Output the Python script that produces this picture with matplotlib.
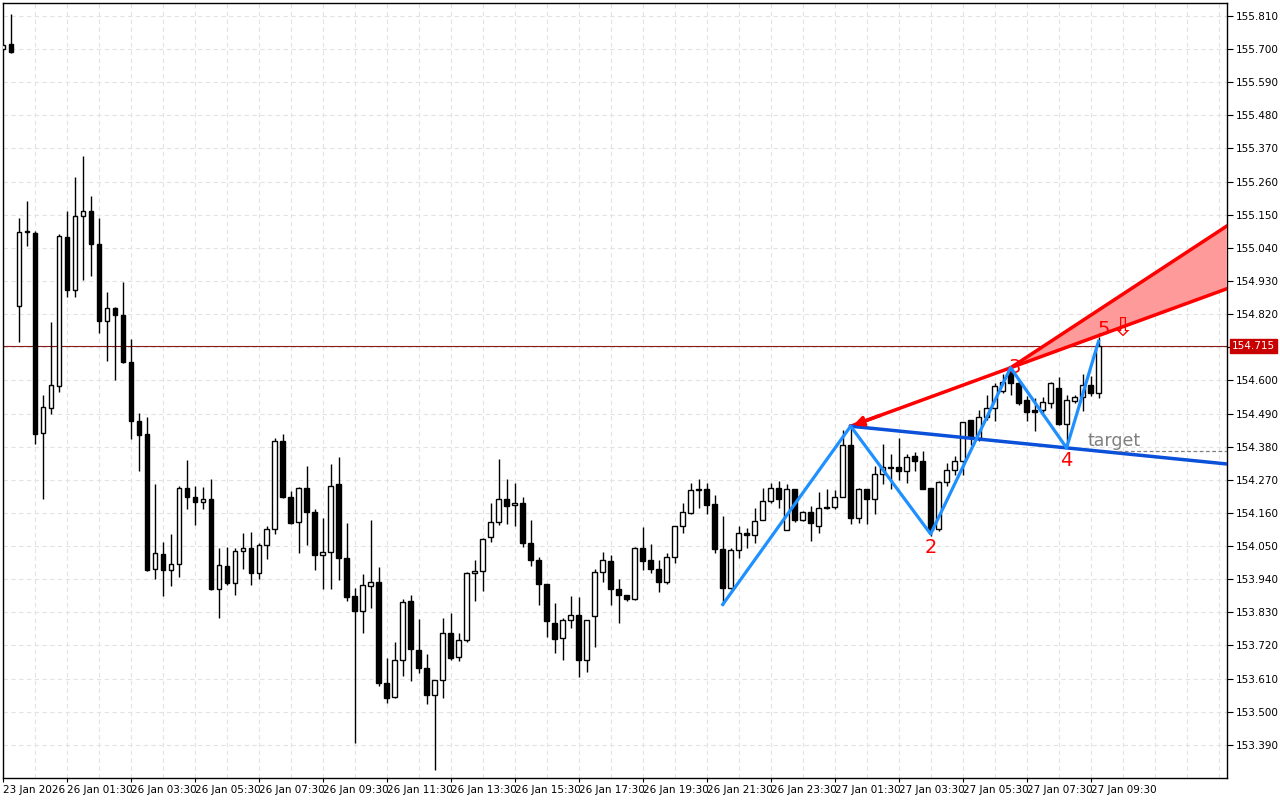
import matplotlib
matplotlib.use("Agg")
import matplotlib.pyplot as plt
import numpy as np

opens = [155.700,155.716,154.848,155.093,155.090,154.424,154.508,154.581,155.077,154.901,
155.147,155.164,155.053,154.797,154.841,154.818,154.662,154.466,154.423,153.975,
154.025,153.969,153.989,154.243,154.212,154.195,154.205,153.906,153.983,153.926,
154.033,154.044,153.961,154.053,154.106,154.399,154.213,154.130,154.244,154.163,
154.022,154.029,154.257,154.011,153.884,153.836,153.917,153.931,153.596,153.548,
153.671,153.867,153.705,153.646,153.557,153.605,153.762,153.681,153.738,153.961,
153.967,154.080,154.130,154.207,154.185,154.194,154.061,154.004,153.923,153.796,
153.744,153.804,153.821,153.671,153.818,153.964,154.000,153.909,153.888,153.873,
154.045,154.004,153.975,153.931,154.015,154.116,154.161,154.240,154.238,154.190,
154.041,153.911,154.037,154.094,154.086,154.138,154.199,154.244,154.103,154.240,
154.136,154.163,154.116,154.180,154.179,154.213,154.385,154.142,154.238,154.205,
154.288,154.312,154.312,154.299,154.349,154.332,154.243,154.108,154.263,154.304,
154.332,154.468,154.409,154.479,154.509,154.564,154.636,154.592,154.534,154.501,
154.501,154.526,154.575,154.454,154.531,154.545,154.584,154.559]
highs = [155.715,155.818,155.140,155.197,155.095,154.553,154.794,155.085,155.164,155.274,
155.344,155.211,155.140,154.894,154.844,154.927,154.736,154.491,154.479,154.256,
154.064,154.090,154.249,154.337,154.249,154.245,154.272,154.044,154.048,154.044,
154.094,154.097,154.061,154.116,154.410,154.421,154.232,154.247,154.315,154.174,
154.144,154.323,154.346,154.127,153.911,153.956,154.138,153.981,153.677,153.732,
153.873,153.889,153.808,153.692,153.605,153.812,153.827,153.762,153.965,154.004,
154.077,154.194,154.340,154.274,154.261,154.214,154.135,154.015,153.923,153.862,
153.812,153.885,153.881,153.806,153.975,154.031,154.019,153.942,153.888,154.047,
154.114,154.058,154.003,154.028,154.117,154.194,154.258,154.273,154.260,154.219,
154.149,154.044,154.116,154.111,154.177,154.244,154.260,154.266,154.255,154.240,
154.168,154.183,154.230,154.240,154.235,154.434,154.448,154.244,154.240,154.315,
154.390,154.356,154.410,154.356,154.363,154.365,154.243,154.265,154.326,154.348,
154.461,154.468,154.503,154.553,154.592,154.620,154.642,154.598,154.548,154.542,
154.544,154.595,154.612,154.551,154.551,154.622,154.614,154.745]
lows = [155.700,155.688,154.726,155.045,154.390,154.206,154.489,154.561,154.877,154.877,
154.933,154.947,154.757,154.664,154.603,154.657,154.404,154.298,153.968,153.941,
153.883,153.919,153.946,154.173,154.120,154.173,153.903,153.812,153.920,153.889,
153.975,153.922,153.941,154.008,154.089,154.208,154.124,154.028,154.055,153.972,
153.908,153.908,153.936,153.867,153.397,153.762,153.845,153.587,153.530,153.546,
153.618,153.601,153.629,153.527,153.306,153.547,153.671,153.668,153.733,153.868,
153.901,154.065,154.120,154.122,154.117,154.047,153.984,153.856,153.749,153.694,
153.671,153.777,153.616,153.632,153.716,153.931,153.856,153.796,153.868,153.870,
153.969,153.959,153.897,153.923,153.993,154.094,154.155,154.175,154.158,154.028,
153.856,153.909,154.011,154.044,154.061,154.138,154.194,154.177,154.103,154.130,
154.133,154.066,154.094,154.173,154.174,154.212,154.122,154.127,154.124,154.155,
154.255,154.240,154.271,154.260,154.299,154.240,154.083,154.099,154.249,154.287,
154.287,154.387,154.398,154.470,154.465,154.559,154.553,154.520,154.465,154.431,
154.492,154.509,154.452,154.376,154.526,154.498,154.548,154.542]
closes = [155.715,155.690,155.094,155.093,154.423,154.511,154.585,155.081,154.901,155.147,
155.164,155.053,154.797,154.841,154.818,154.660,154.464,154.418,153.971,154.028,
153.969,153.989,154.243,154.212,154.195,154.205,153.907,153.987,153.926,154.033,
154.043,153.961,154.053,154.106,154.399,154.213,154.127,154.244,154.162,154.022,
154.030,154.249,154.009,153.882,153.834,153.920,153.930,153.596,153.546,153.671,
153.865,153.707,153.644,153.557,153.605,153.762,153.679,153.738,153.962,153.967,
154.075,154.130,154.207,154.183,154.193,154.059,154.004,153.923,153.801,153.740,
153.804,153.821,153.671,153.804,153.964,154.004,153.906,153.886,153.873,154.045,
154.000,153.973,153.931,154.015,154.117,154.163,154.236,154.235,154.188,154.039,
153.911,154.037,154.094,154.086,154.133,154.199,154.244,154.205,154.240,154.135,
154.163,154.125,154.177,154.175,154.213,154.387,154.142,154.240,154.205,154.288,
154.312,154.308,154.299,154.345,154.332,154.241,154.105,154.263,154.304,154.332,
154.461,154.413,154.479,154.509,154.581,154.595,154.592,154.526,154.496,154.496,
154.528,154.592,154.454,154.534,154.545,154.584,154.559,154.715]

x_labels = ["23 Jan 2026", "26 Jan 01:30", "26 Jan 03:30", "26 Jan 05:30", "26 Jan 07:30",
            "26 Jan 09:30", "26 Jan 11:30", "26 Jan 13:30", "26 Jan 15:30", "26 Jan 17:30",
            "26 Jan 19:30", "26 Jan 21:30", "26 Jan 23:30", "27 Jan 01:30", "27 Jan 03:30",
            "27 Jan 05:30", "27 Jan 07:30", "27 Jan 09:30"]
x_label_pos = [0, 8, 16, 24, 32, 40, 48, 56, 64, 72, 80, 88, 96, 104, 112, 120, 128, 136]
y_ticks = [155.810,155.700,155.590,155.480,155.370,155.260,155.150,155.040,154.930,154.820,
           154.710,154.600,154.490,154.380,154.270,154.160,154.050,153.940,153.830,153.720,
           153.610,153.500,153.390]

wave_idx = [90, 106, 116, 126, 133, 137]
wave_price = [153.856, 154.448, 154.090, 154.642, 154.376, 154.730]
current_price = 154.715
upper_end_price = 155.113
target_price = 154.365

fig = plt.figure(figsize=(12.8, 8.0), dpi=100)
ax = fig.add_axes([3/1280, 22/800, 1224/1280, 775/800])
X0, X1 = 0.06, 153.06
ax.set_xlim(X0, X1)
ax.set_ylim(153.280, 155.853)

o = np.array(opens); h = np.array(highs); l = np.array(lows); c = np.array(closes)
xs = np.arange(len(o))
ax.vlines(xs, l, h, color="black", lw=1, zorder=3)
bull = c >= o
bottom = np.minimum(o, c)
height = np.maximum(np.abs(c - o), 0.0025)
ax.bar(xs[bull], height[bull], bottom=bottom[bull], width=0.6, color="white",
       edgecolor="black", lw=1, zorder=4)
ax.bar(xs[~bull], height[~bull], bottom=bottom[~bull], width=0.6, color="black",
       edgecolor="black", lw=1, zorder=4)

for yv in y_ticks:
    ax.axhline(yv, color="#e3e3e3", lw=0.8, ls=(0, (4, 3)), zorder=0)
for xv in range(4, 153, 4):
    ax.axvline(xv, color="#e3e3e3", lw=0.8, ls=(0, (4, 3)), zorder=0)

ax.axhline(current_price, color="#8b1a1a", lw=0.8, zorder=2)

p1 = (wave_idx[1], wave_price[1]); p3 = (wave_idx[3], wave_price[3])
slope13 = (p3[1] - p1[1]) / (p3[0] - p1[0])
lower_end = p3[1] + slope13 * (X1 - p3[0])
ax.fill([p3[0], X1, X1], [p3[1], upper_end_price, lower_end], color="#ff9a9a", zorder=5)
ax.plot([p3[0], X1], [p3[1], upper_end_price], color="red", lw=2.5, zorder=6)
ax.plot([p1[0], X1], [p1[1], lower_end], color="red", lw=2.5, zorder=6)
ax.annotate("", xy=p1, xytext=(p1[0] + 4, p1[1] + slope13 * 4),
            arrowprops=dict(arrowstyle="-|>", color="red", lw=2.5, mutation_scale=14), zorder=7)

p4 = (wave_idx[4], wave_price[4])
slope14 = (p4[1] - p1[1]) / (p4[0] - p1[0])
ax.plot([p1[0], X1], [p1[1], p1[1] + slope14 * (X1 - p1[0])], color="#0a50d8", lw=2.5, zorder=6)

ax.plot(wave_idx, wave_price, color="#1e90ff", lw=2.3, zorder=7)

ax.text(wave_idx[2], 154.045, "2", color="red", fontsize=14, ha="center", va="center", zorder=8)
ax.text(wave_idx[3] + 0.5, 154.642, "3", color="red", fontsize=14, ha="center", va="center", zorder=6.5)
ax.text(wave_idx[4], 154.335, "4", color="red", fontsize=14, ha="center", va="center", zorder=8)
ax.text(wave_idx[5] + 0.7, 154.770, "5", color="red", fontsize=14, ha="center", va="center", zorder=8)
ax.text(wave_idx[5] + 3.0, 154.772, "⇩", color="red", fontsize=19, ha="center", va="center", zorder=8)

ax.text(138.9, 154.398, "target", color="#808080", fontsize=12.5, ha="center", va="center", zorder=8)
ax.plot([139.4, X1], [target_price, target_price], color="#808080", lw=0.9, ls=(0, (3, 2)), zorder=6)

for s in ax.spines.values():
    s.set_color("black"); s.set_linewidth(1)
ax.yaxis.tick_right()
ax.set_yticks(y_ticks)
ax.set_yticklabels([f"{v:.3f}" if abs(v - 154.710) > 1e-6 else "" for v in y_ticks],
                   fontsize=7.5)
ax.tick_params(axis="y", length=4, direction="out", pad=2)
ax.set_xticks(x_label_pos)
ax.set_xticklabels(x_labels, fontsize=7.5, ha="left")
ax.tick_params(axis="x", length=3, direction="out", pad=2)
ax.text(1.004, (current_price - 153.280) / (155.853 - 153.280), f"{current_price:.3f}",
        transform=ax.transAxes, fontsize=7.5, color="white", va="center", ha="left",
        bbox=dict(boxstyle="square,pad=0.2", fc="#c80000", ec="#c80000"))

fig.savefig("out.png", dpi=100)
